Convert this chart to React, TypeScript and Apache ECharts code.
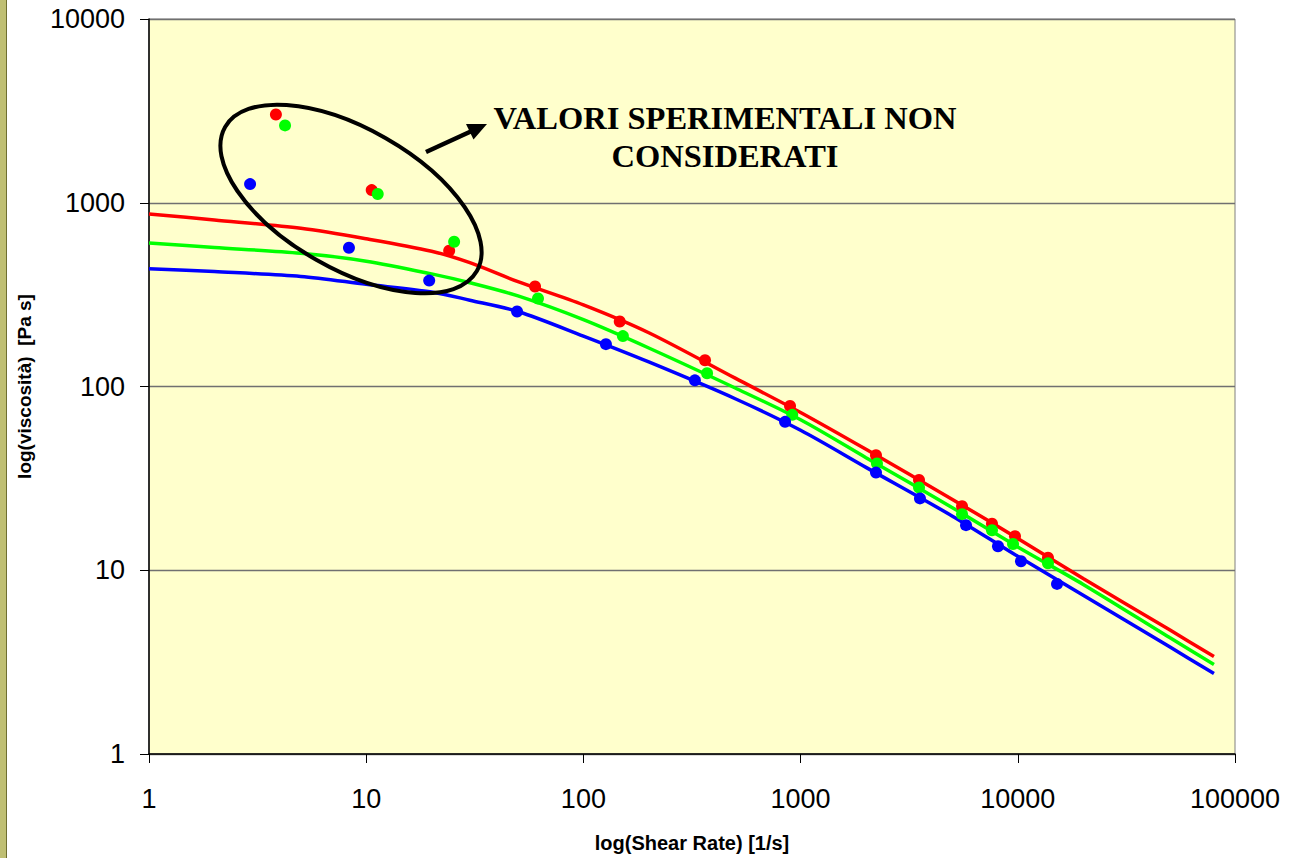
import React, { useEffect, useRef } from "react";
import * as echarts from "echarts";

// Fitted model curves (shear rate [1/s] -> viscosity [Pa s])
const curveX = [1, 2, 5, 10, 20, 30, 50, 100, 200, 500, 1000, 2000, 5000, 10000, 20000, 50000, 80000];
const curveRed = [869, 806, 726, 637, 545, 472, 372, 278, 196, 111, 72.2, 45.5, 24.3, 14.9, 9.03, 4.74, 3.39];
const curveGreen = [603, 571, 531, 481, 410, 367, 311, 231, 162, 98.1, 65.9, 41.0, 21.9, 13.4, 8.37, 4.3, 3.07];
const curveBlue = [438, 422, 397, 360, 327, 295, 256, 188, 136, 85.8, 57.8, 36.3, 19.7, 11.9, 7.32, 3.83, 2.74];

// Experimental points
const redX = [3.84, 10.6, 24.1, 59.9, 147, 363, 894, 2224, 3509, 5537, 7606, 9708, 13772];
const redY = [3023, 1172, 548, 350, 226, 139, 78.4, 42.3, 31.0, 22.3, 17.9, 15.3, 11.7];
const greenX = [4.23, 11.3, 25.4, 61.8, 152, 371, 915, 2247, 3509, 5537, 7606, 9507, 13772];
const greenY = [2636, 1115, 613, 301, 188, 118, 70.1, 38.1, 28.2, 20.2, 16.5, 13.9, 10.9];
const blueX = [2.92, 8.33, 19.5, 49.5, 127, 326, 848, 2224, 3545, 5776, 8105, 10344, 15155];
const blueY = [1263, 569, 377, 256, 170, 108, 64.2, 34.0, 24.6, 17.6, 13.5, 11.2, 8.43];

const annotationText = "VALORI SPERIMENTALI NON\nCONSIDERATI";
const xTitle = "log(Shear Rate) [1/s]";
const yTitle = "log(viscosità)  [Pa s]";

const zip = (xs: number[], ys: number[]) => xs.map((x, i) => [x, ys[i]]);

export default function App() {
  const ref = useRef<HTMLDivElement>(null);
  useEffect(() => {
    if (!ref.current) return;
    const chart = echarts.init(ref.current, undefined, { renderer: "svg" });
    const sans = "'Liberation Sans', Arial, sans-serif";
    const lineSeries = (name: string, color: string, ys: number[]) => ({
      name,
      type: "line",
      data: zip(curveX, ys),
      showSymbol: false,
      smooth: 0.3,
      lineStyle: { color, width: 3.5 },
      z: 2,
    });
    const dotSeries = (name: string, color: string, xs: number[], ys: number[]) => ({
      name,
      type: "scatter",
      data: zip(xs, ys),
      symbolSize: 12,
      itemStyle: { color, opacity: 1 },
      z: 3,
    });
    chart.setOption({
      animation: false,
      backgroundColor: "#ffffff",
      grid: {
        left: 149,
        right: 58,
        top: 19,
        bottom: 100,
        show: true,
        backgroundColor: "#FFFFCC",
        borderColor: "#808080",
        borderWidth: 1,
      },
      xAxis: {
        type: "log",
        logBase: 10,
        min: 1,
        max: 100000,
        name: xTitle,
        nameLocation: "middle",
        nameGap: 79,
        nameTextStyle: { fontFamily: sans, fontWeight: "bold", fontSize: 20, color: "#000" },
        axisLine: { lineStyle: { color: "#000", width: 1.5 } },
        axisTick: { show: true, inside: false, length: 9, lineStyle: { color: "#000" } },
        minorTick: { show: false },
        splitLine: { show: false },
        axisLabel: {
          margin: 31,
          fontFamily: sans,
          fontSize: 27,
          color: "#000",
          formatter: (v: number) => String(Math.round(v)),
        },
      },
      yAxis: {
        type: "log",
        logBase: 10,
        min: 1,
        max: 10000,
        name: yTitle,
        nameLocation: "middle",
        nameRotate: 90,
        nameGap: 115,
        nameTextStyle: { fontFamily: sans, fontWeight: "bold", fontSize: 19, color: "#000" },
        axisLine: { show: true, lineStyle: { color: "#000", width: 1.5 } },
        axisTick: { show: true, inside: false, length: 9, lineStyle: { color: "#000" } },
        splitLine: { show: true, lineStyle: { color: "#707070", width: 1.3 } },
        axisLabel: {
          margin: 24,
          fontFamily: sans,
          fontSize: 27,
          color: "#000",
          formatter: (v: number) => String(Math.round(v)),
        },
      },
      series: [
        lineSeries("Modello rosso", "#FF0000", curveRed),
        lineSeries("Modello verde", "#00FF00", curveGreen),
        lineSeries("Modello blu", "#0000FF", curveBlue),
        dotSeries("Sperimentale rosso", "#FF0000", redX, redY),
        dotSeries("Sperimentale verde", "#00FF00", greenX, greenY),
        dotSeries("Sperimentale blu", "#0000FF", blueX, blueY),
      ],
      graphic: [
        {
          type: "rect",
          left: 0,
          top: 0,
          shape: { x: 0, y: 0, width: 6, height: 858 },
          style: { fill: "#BFBF73" },
          z: 10,
        },
        {
          type: "line",
          shape: { x1: 6.5, y1: 0, x2: 6.5, y2: 858 },
          style: { stroke: "#6E6E30", lineWidth: 1 },
          z: 10,
        },
        {
          type: "ellipse",
          x: 351,
          y: 199,
          rotation: -0.52,
          shape: { cx: 0, cy: 0, rx: 145, ry: 70 },
          style: { fill: "none", stroke: "#000", lineWidth: 4 },
          z: 10,
        },
        {
          type: "line",
          shape: { x1: 426, y1: 152, x2: 474, y2: 130 },
          style: { stroke: "#000", lineWidth: 4.5 },
          z: 10,
        },
        {
          type: "polygon",
          shape: { points: [[487, 124], [466, 124], [473.5, 139.5]] },
          style: { fill: "#000" },
          z: 10,
        },
        {
          type: "text",
          x: 725,
          y: 99,
          style: {
            text: annotationText,
            textAlign: "center",
            textVerticalAlign: "top",
            font: "bold 32.5px 'Liberation Serif', 'Times New Roman', serif",
            lineHeight: 38,
            fill: "#000",
          },
          z: 10,
        },
      ],
    });
    return () => chart.dispose();
  }, []);
  return (
    <div
      ref={ref}
      style={{ position: "fixed", left: 0, top: 0, width: 1293, height: 858 }}
    />
  );
}
